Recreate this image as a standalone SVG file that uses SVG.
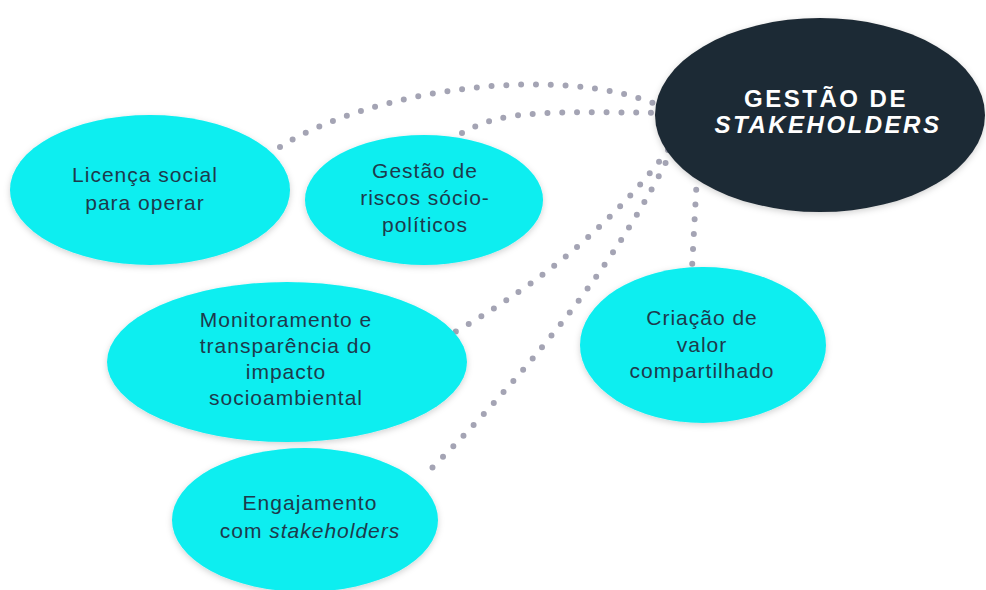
<svg xmlns="http://www.w3.org/2000/svg" width="986" height="590" viewBox="0 0 986 590">
  <defs>
    <filter id="sh" x="-10%" y="-10%" width="120%" height="125%">
      <feDropShadow dx="0" dy="2" stdDeviation="3" flood-color="#000" flood-opacity="0.18"/>
    </filter>
    <style>
      .bub { fill: #0aeef0; filter: url(#sh); }
      .hub { fill: #1e2a34; filter: url(#sh); }
      .lbl { font-family: "Liberation Sans", Arial, sans-serif; font-size: 21px; fill: #1d3a4c; text-anchor: middle; letter-spacing: 1px; }
      .hubt { font-family: "Liberation Sans", Arial, sans-serif; font-size: 24px; font-weight: bold; fill: #ffffff; text-anchor: middle; letter-spacing: 2.5px; }
      .dots { fill: none; stroke: #a4a4b4; stroke-width: 6; stroke-linecap: round; stroke-dasharray: 0 14.8; }
    </style>
  </defs>
  <rect width="986" height="590" fill="#ffffff"/>

  <g id="connectors">
    <path class="dots" d="M280 147 C370 90, 560 62, 660 106"/>
    <path class="dots" d="M462 133 C500 112, 530 111, 665 113"/>
    <path class="dots" d="M668 150 Q590 255, 455 332"/>
    <path class="dots" d="M672 150 Q600 300, 428 472"/>
    <path class="dots" d="M697 175 L692 268"/>
  </g>

  <g id="hub">
    <ellipse class="hub" cx="820" cy="115" rx="165" ry="97"/>
    <text class="hubt" x="826" y="107">GESTÃO DE</text>
    <text class="hubt" x="828" y="133" font-style="italic">STAKEHOLDERS</text>
  </g>

  <g id="licenca">
    <ellipse class="bub" cx="150" cy="190" rx="140" ry="75"/>
    <text class="lbl" x="145" y="182">Licença social</text>
    <text class="lbl" x="145" y="210">para operar</text>
  </g>

  <g id="riscos">
    <ellipse class="bub" cx="424" cy="200" rx="119" ry="65"/>
    <text class="lbl" x="425" y="178">Gestão de</text>
    <text class="lbl" x="425" y="205">riscos sócio-</text>
    <text class="lbl" x="425" y="232">políticos</text>
  </g>

  <g id="monitoramento">
    <ellipse class="bub" cx="287" cy="362" rx="180" ry="80"/>
    <text class="lbl" x="286" y="327">Monitoramento e</text>
    <text class="lbl" x="286" y="353">transparência do</text>
    <text class="lbl" x="286" y="379">impacto</text>
    <text class="lbl" x="286" y="405">socioambiental</text>
  </g>

  <g id="criacao">
    <ellipse class="bub" cx="703" cy="345" rx="123" ry="78"/>
    <text class="lbl" x="702" y="325">Criação de</text>
    <text class="lbl" x="702" y="352">valor</text>
    <text class="lbl" x="702" y="378">compartilhado</text>
  </g>

  <g id="engajamento">
    <ellipse class="bub" cx="305" cy="520" rx="133" ry="72"/>
    <text class="lbl" x="310" y="510">Engajamento</text>
    <text class="lbl" x="310" y="538">com <tspan font-style="italic">stakeholders</tspan></text>
  </g>
</svg>
